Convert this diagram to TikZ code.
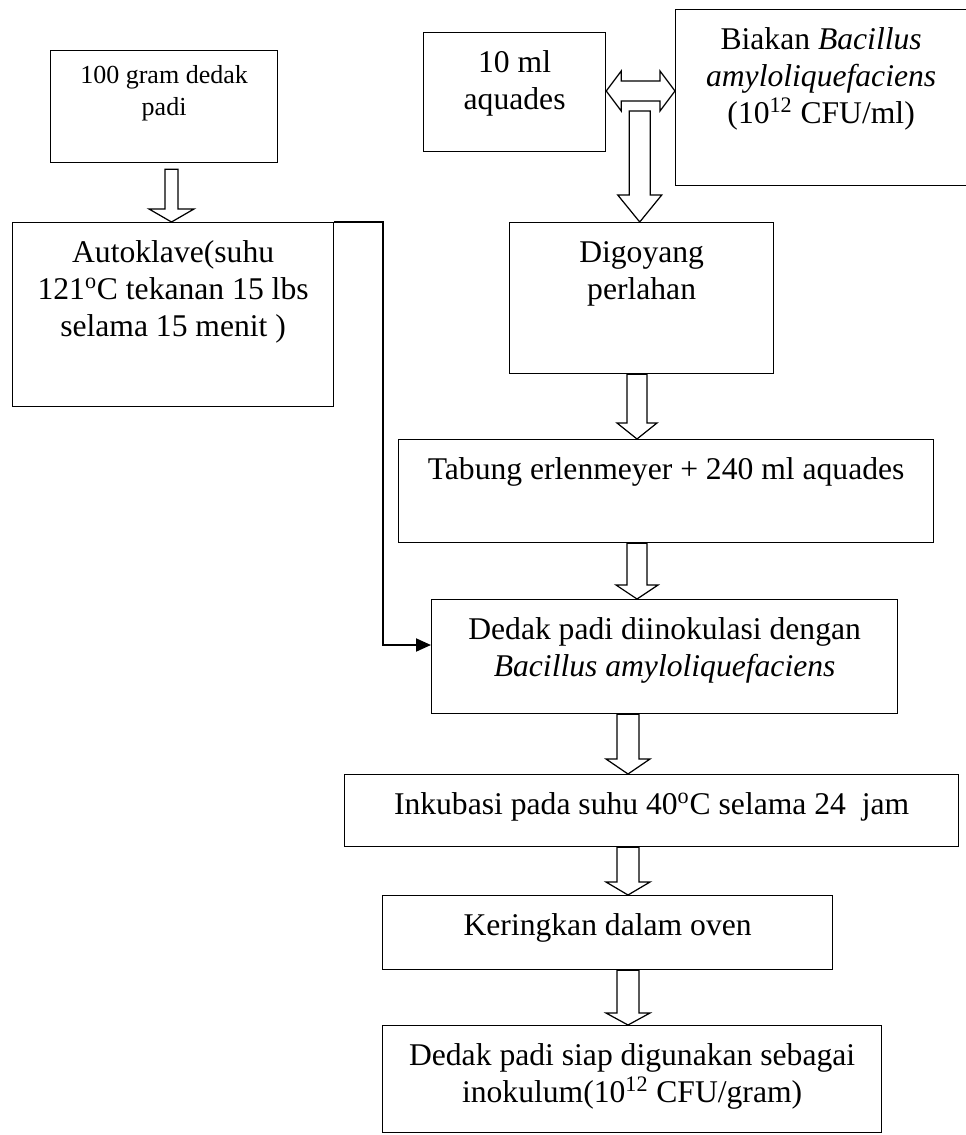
\documentclass[tikz,border=0pt]{standalone}
\usepackage{fontspec}
\setmainfont{Liberation Serif}
\usetikzlibrary{calc,arrows.meta}

\newlength{\unitpx}
\setlength{\unitpx}{0.02cm}
\newcommand{\boxtxt}[4][0.8cm]{\parbox[c][#3\unitpx][t]{#2\unitpx}{\centering\rule{0pt}{#1}#4\par}}
\newcommand{\fatarrow}[5]{\draw[fat] (#1) coordinate (t) ++(-#3,0) -- ($(t |- #2.north)+(-#3,-#5)$) -- ++(#3-#4,0) -- (t |- #2.north) -- ++(#4,-#5) -- ++(#3-#4,0) -- ($(t)+(#3,0)$) -- cycle;}

\tikzset{
  box/.style={draw, line width=0.7pt, inner sep=0pt, anchor=north west, font=\fontsize{18}{21}\selectfont},
  fat/.style={draw, fill=white, line width=0.7pt, line join=miter},
  link/.style={line width=1.1pt, -{Triangle[length=0.3cm,width=0.26cm]}}
}

\begin{document}
\begin{tikzpicture}[x=0.02cm, y=-0.02cm]
\useasboundingbox (0,0) rectangle (966,1135);
\clip (0,0) rectangle (966,1135);

\node[box, font=\fontsize{14.8}{18.2}\selectfont] (dedak) at (50,50) {\boxtxt[0.66cm]{227}{112}{100 gram dedak\\ padi}};
\node[box] (autoklave) at (12,222) {\boxtxt{321}{184}{Autoklave(suhu\\ 121\textsuperscript{o}C tekanan 15 lbs\\ selama 15 menit )}};

\node[box] (aquades) at (423,32) {\boxtxt{182}{119}{10 ml\\ aquades}};
\node[box] (biakan) at (675,9) {\boxtxt{291}{176}{Biakan \textit{Bacillus}\\ \textit{amyloliquefaciens}\\ (10\textsuperscript{12} CFU/ml)}};
\node[box] (digoyang) at (509,222) {\boxtxt{264}{151}{Digoyang\\ perlahan}};
\node[box] (tabung) at (398,439) {\boxtxt{535}{103}{Tabung erlenmeyer + 240 ml aquades}};
\node[box] (inok) at (431,599) {\boxtxt{466}{114}{Dedak padi diinokulasi dengan\\ \textit{Bacillus amyloliquefaciens}}};
\node[box] (inkubasi) at (344,774) {\boxtxt{614}{72}{Inkubasi pada suhu 40\textsuperscript{o}C selama 24\ \ jam}};
\node[box] (kering) at (382,895) {\boxtxt{450}{74}{Keringkan dalam oven}};
\node[box] (siap) at (382,1025) {\boxtxt{499}{107}{Dedak padi siap digunakan sebagai\\ inokulum(10\textsuperscript{12} CFU/gram)}};

\coordinate (dl) at ($(aquades.north east)+(0,59)$);
\coordinate (dr) at (biakan.west |- dl);
\draw[fat] (dl) -- ++(15,-20) -- ++(0,10) -- ($(dr)+(-15,-10)$) -- ++(0,-10) -- (dr) -- ++(-15,20) -- ++(0,-10) -- ($(dl)+(15,10)$) -- ++(0,10) -- cycle;

\fatarrow{$(dedak.south west)+(121.5,6)$}{autoklave}{6.5}{22.5}{13}
\fatarrow{$(dl)+(33.5,20)$}{digoyang}{10.5}{22}{27}
\fatarrow{$(digoyang.south west)+(128,0)$}{tabung}{10}{20}{16}
\fatarrow{$(tabung.south west)+(239,0)$}{inok}{10}{21}{14}
\fatarrow{$(inok.south west)+(197,0)$}{inkubasi}{11}{22}{15}
\fatarrow{$(inkubasi.south west)+(284,0)$}{kering}{11}{22}{13}
\fatarrow{$(kering.south west)+(246,0)$}{siap}{11}{22}{12}

\draw[link] (autoklave.north east) -- ++(49,0) |- ($(inok.north west)+(0,46)$);

\end{tikzpicture}
\end{document}
